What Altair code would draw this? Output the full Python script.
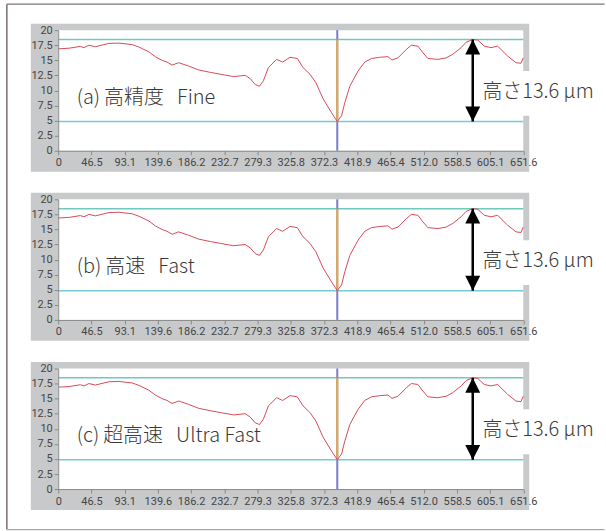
import altair as alt
import pandas as pd

# Surface profile (position along the scan, height in µm)
profile_x = [0, 15, 31, 36, 43, 52, 71, 85, 103.6, 113, 127, 136, 145.5, 152.5,
             159.5, 168.7, 182.7, 196.7, 213, 227, 245.6, 262, 269, 276, 282,
             287.5, 294.5, 306, 314.5, 324.8, 335, 343, 352.7, 361, 371, 383,
             391, 397, 401.6, 408.6, 420, 429.5, 438.9, 450.5, 462, 467.7, 476,
             487.8, 494.8, 504, 511, 518, 532, 543.6, 552.9, 564.6, 571.6,
             580.8, 587.8, 597, 606.5, 615.7, 629.7, 641.4, 648.4, 651.6]
profile_y = [16.9, 17.0, 17.3, 17.1, 17.5, 17.25, 17.8, 17.85, 17.6, 17.2, 16.4,
             15.6, 15.0, 14.7, 14.2, 14.6, 14.05, 13.4, 13.0, 12.7, 12.3, 12.5,
             11.95, 11.0, 10.7, 11.6, 13.8, 15.15, 14.7, 15.5, 15.3, 13.8, 12.7,
             11.3, 8.65, 6.3, 4.85, 5.8, 8.0, 10.7, 13.2, 14.7, 15.3, 15.5, 15.6,
             15.05, 15.4, 16.8, 17.5, 17.35, 16.25, 15.3, 15.15, 15.4, 16.0, 17.1,
             18.0, 18.45, 18.35, 17.35, 17.1, 17.35, 15.7, 14.6, 14.5, 15.4]

panel_titles = ["(a)\u2009高精度\u00a0\u00a0\u00a0Fine",
                "(b)\u2009高速\u00a0\u00a0\u00a0Fast",
                "(c)\u2009超高速\u00a0\u00a0\u00a0Ultra Fast"]

x_max = 651.6
x_tick_labels = ["0", "46.5", "93.1", "139.6", "186.2", "232.7", "279.3", "325.8",
                 "372.3", "418.9", "465.4", "512.0", "558.5", "605.1", "651.6"]
y_ticks = [0, 2.5, 5, 7.5, 10, 12.5, 15, 17.5, 20]

upper_level = 18.45   # peak height
lower_level = 4.85    # valley bottom
cursor_x = 391        # valley position
peak_x = 580.8        # peak position

step = x_max / (len(x_tick_labels) - 1)
x_tick_values = [i * step for i in range(len(x_tick_labels))]
height_label = f"高さ{upper_level - lower_level:.1f} µm"

W, H = 466.5, 121
JP_FONT = "Noto Sans CJK JP"
TICK_FONT = "Liberation Sans Narrow, Roboto, sans-serif"
TEXT_COLOR = "#3a3a3a"

profile = pd.DataFrame({"x": profile_x, "y": profile_y})
one = pd.DataFrame({"k": [0]})
levels = pd.DataFrame({"level": [upper_level, lower_level],
                       "c": ["#6fc9bc", "#74cbd8"]})
cursor = pd.DataFrame({"x": [cursor_x], "y": [lower_level], "y2": [upper_level]})
peak = pd.DataFrame({"x": [peak_x], "y": [lower_level], "y2": [upper_level]})

x_scale = alt.Scale(domain=[0, x_max], nice=False, zero=False)
y_scale = alt.Scale(domain=[0, 20], nice=False)

label_array = "[" + ",".join(f"'{s}'" for s in x_tick_labels) + "]"
axis_style = dict(
    title=None, grid=False, zindex=1, tickSize=4, tickColor="#8a8a8a",
    domainColor="#8a8a8a", labelColor="#454545", labelFontSize=11,
    labelFont=TICK_FONT, labelPadding=2, labelOverlap=False,
)
x_axis = alt.Axis(values=x_tick_values,
                  labelExpr=f"{label_array}[round(datum.value / {step})]",
                  labelFlush=False, **axis_style)
y_axis = alt.Axis(values=y_ticks, labelExpr="toString(datum.value)", **axis_style)


def X(field):
    return alt.X(field, type="quantitative", scale=x_scale, axis=x_axis)


def Y(field):
    return alt.Y(field, type="quantitative", scale=y_scale, axis=y_axis)


def panel(title, with_border=False):
    # grey frame behind the plot and its axes, white plotting area on top
    frame = alt.Chart(one).mark_rect(color="#c8c9cb").encode(
        x=alt.value(-27.5), x2=alt.value(W + 6),
        y=alt.value(-6.5), y2=alt.value(H + 21))
    plot_bg = alt.Chart(one).mark_rect(color="white").encode(
        x=alt.value(0), x2=alt.value(W), y=alt.value(0), y2=alt.value(H))
    hlines = alt.Chart(levels).mark_rule(strokeWidth=1.5).encode(
        y=Y("level"), color=alt.Color("c:N", scale=None))
    vline = alt.Chart(cursor).mark_rule(color="#7b7dcc", strokeWidth=2).encode(
        x=X("x"))
    vseg = alt.Chart(cursor).mark_rule(color="#e8ab3a", strokeWidth=2).encode(
        x=X("x"), y=Y("y"), y2="y2:Q")
    line = alt.Chart(profile).mark_line(color="#d84a56", strokeWidth=1.0).encode(
        x=X("x"), y=Y("y"))
    label_box = alt.Chart(one).mark_rect(color="white").encode(
        x=alt.value(422), x2=alt.value(547), y=alt.value(41), y2=alt.value(86))
    height_text = alt.Chart(one).mark_text(
        text=height_label, align="left", baseline="middle", fontSize=20,
        font=JP_FONT, fontWeight=300, color=TEXT_COLOR
    ).encode(x=alt.value(425.5), y=alt.value(62))
    title_text = alt.Chart(one).mark_text(
        text=title, align="left", baseline="middle", fontSize=20,
        font=JP_FONT, fontWeight=300, color=TEXT_COLOR
    ).encode(x=alt.value(18.5), y=alt.value(68))
    shaft = alt.Chart(peak).mark_rule(color="black", strokeWidth=2.5).encode(
        x=X("x"), y=Y("y"), y2="y2:Q")
    head_up = alt.Chart(peak).mark_point(
        shape="M0,0L0.5,1L-0.5,1Z", filled=True, color="black", opacity=1,
        size=900, strokeWidth=0
    ).encode(x=X("x"), y=Y("y2"))
    head_down = alt.Chart(peak).mark_point(
        shape="M0,0L0.5,-1L-0.5,-1Z", filled=True, color="black", opacity=1,
        size=900, strokeWidth=0
    ).encode(x=X("x"), y=Y("y"))
    layers = [frame, plot_bg, hlines, vline, vseg, line, label_box,
              height_text, title_text, shaft, head_up, head_down]
    if with_border:
        # page frame: left, top and bottom edges
        left_edge = alt.Chart(one).mark_rule(color="#55494a", strokeWidth=1.2).encode(
            x=alt.value(-51.5), y=alt.value(-26), y2=alt.value(501))
        top_edge = alt.Chart(one).mark_rule(color="#7d7471", strokeWidth=1.2).encode(
            x=alt.value(-51.5), x2=alt.value(548), y=alt.value(-26))
        bottom_edge = alt.Chart(one).mark_rule(color="#a9a9a9", strokeWidth=1.2).encode(
            x=alt.value(-51.5), x2=alt.value(548), y=alt.value(501))
        layers += [left_edge, top_edge, bottom_edge]
    return alt.layer(*layers).properties(width=W, height=H)


chart = alt.vconcat(
    panel(panel_titles[0], with_border=True),
    panel(panel_titles[1]),
    panel(panel_titles[2]),
    spacing=48.7, bounds="flush",
).properties(
    padding={"left": 5.4, "top": 2.4, "right": 0, "bottom": 0},
    background="white",
).configure_view(strokeWidth=0)

chart.save("out.html", embed_options={"renderer": "svg", "actions": False})
